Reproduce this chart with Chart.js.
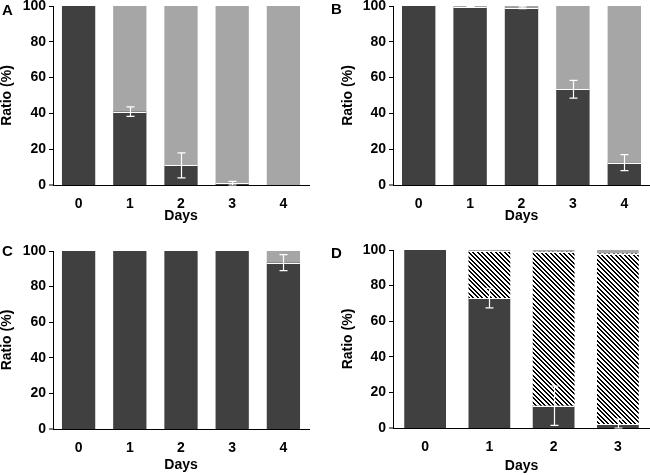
<!DOCTYPE html>
<html>
<head>
<meta charset="utf-8">
<script src="https://cdn.jsdelivr.net/npm/chart.js@4"></script>
<style>
  body { margin: 0; background: #fff; }
  #wrap { position: relative; width: 650px; height: 475px; overflow: hidden; }
  .panel { position: absolute; }
  .letter { position: absolute; font: bold 15px "Liberation Sans", Arial, sans-serif; line-height: 1; color: #000; }
</style>
</head>
<body>
<div id="wrap">
  <canvas class="panel" id="cA" width="325" height="235" style="left:0;top:0"></canvas>
  <canvas class="panel" id="cB" width="325" height="235" style="left:325px;top:0"></canvas>
  <canvas class="panel" id="cC" width="325" height="240" style="left:0;top:235px"></canvas>
  <canvas class="panel" id="cD" width="325" height="240" style="left:325px;top:235px"></canvas>
  <div class="letter" style="left:2px;top:2px">A</div>
  <div class="letter" style="left:331px;top:1px">B</div>
  <div class="letter" style="left:2px;top:243px">C</div>
  <div class="letter" style="left:331px;top:245px">D</div>
</div>
<script>
// data
const days5 = ['0', '1', '2', '3', '4'];
const days4 = ['0', '1', '2', '3'];

const aDark = [100, 41, 11, 1, 0];
const aLight = [0, 59, 89, 99, 100];
const aErr = [0, 2.7, 7, 1, 0];

const bDark = [100, 99.5, 99, 53.5, 12.5];
const bLight = [0, 0.5, 1, 46.5, 87.5];
const bErr = [0, 0.3, 0.5, 5, 4.5];

const cDark = [100, 100, 100, 100, 93.5];
const cLight = [0, 0, 0, 0, 6.5];
const cErr = [0, 0, 0, 0, 4.5];

const dDark = [100, 73, 12.5, 2];
const dHatch = [0, 26.5, 86.5, 96];
const dLight = [0, 0.5, 1, 2];
const dErr = [0, 5.5, 11, 3];

const DARK = '#404040';
const LIGHT = '#a6a6a6';

Chart.defaults.font.family = '"Liberation Sans", Arial, sans-serif';
Chart.defaults.color = '#000';

function hatch() {
  // diagonal black/white stripes, top-left to bottom-right
  const s = 9;
  const c = document.createElement('canvas');
  c.width = s; c.height = s;
  const g = c.getContext('2d');
  g.fillStyle = '#fff';
  g.fillRect(0, 0, s, s);
  g.fillStyle = '#000';
  for (let y = 0; y < s; y++) {
    for (let x = 0; x < s; x++) {
      const k = ((x - y) % s + s) % s;
      if (k === 0 || k === 1 || k === 4 || k === 5) g.fillRect(x, y, 1, 1);
    }
  }
  return g.createPattern(c, 'repeat');
}

// white lines between stacked segments + white error bars on the dark segment
const errorBars = {
  id: 'errorBars',
  afterDatasetsDraw(chart, args, opts) {
    const y = chart.scales.y;
    const ctx = chart.ctx;
    const sets = chart.data.datasets;
    const meta0 = chart.getDatasetMeta(0);
    ctx.save();
    ctx.strokeStyle = '#fff';
    ctx.lineWidth = 1;
    meta0.data.forEach((bar, i) => {
      let sum = 0;
      for (let d = 0; d < sets.length - 1; d++) {
        sum += sets[d].data[i];
        if (sum <= 0 || sum >= 100) continue;
        const yy = Math.round(y.getPixelForValue(sum)) + 0.5;
        ctx.beginPath();
        ctx.moveTo(bar.x - bar.width / 2, yy);
        ctx.lineTo(bar.x + bar.width / 2, yy);
        ctx.stroke();
      }
    });
    ctx.lineWidth = 1.2;
    opts.errors.forEach((e, i) => {
      if (!e) return;
      const x = Math.round(meta0.data[i].x) + 0.5;
      const v = opts.values[i];
      const t = y.getPixelForValue(Math.min(v + e, 100));
      const b = y.getPixelForValue(Math.max(v - e, 0));
      ctx.beginPath();
      ctx.moveTo(x, t); ctx.lineTo(x, b);
      ctx.moveTo(x - 4, t); ctx.lineTo(x + 4, t);
      ctx.moveTo(x - 4, b); ctx.lineTo(x + 4, b);
      ctx.stroke();
    });
    ctx.restore();
  }
};

function seg(data, color) {
  return {
    data: data,
    backgroundColor: color,
    borderWidth: 0,
    barPercentage: 0.65,
    categoryPercentage: 1
  };
}

function makeChart(id, labels, sets, dark, errs, g) {
  return new Chart(document.getElementById(id), {
    type: 'bar',
    data: { labels: labels, datasets: sets },
    plugins: [errorBars],
    options: {
      responsive: false,
      animation: false,
      layout: { padding: { top: g.top, right: g.right, left: 0, bottom: 0 } },
      plugins: {
        legend: { display: false },
        tooltip: { enabled: false },
        errorBars: { values: dark, errors: errs }
      },
      scales: {
        x: {
          stacked: true,
          grid: { display: false },
          border: { display: true, color: '#000', width: 1 },
          ticks: { font: { size: 14, weight: 'bold' }, padding: 3 },
          title: {
            display: true, text: 'Days',
            font: { size: 14, weight: 'bold', lineHeight: 1 },
            padding: { top: 0, bottom: g.dpad }
          },
          afterFit(s) { s.height = g.xh; s.paddingLeft = 0; s.paddingRight = 0; }
        },
        y: {
          stacked: true,
          min: 0, max: 100,
          grid: {
            display: true, drawOnChartArea: false, drawTicks: true, tickLength: 4,
            lineWidth: (c) => (c.tick && c.tick.value === 0 ? 0 : 1),
            tickWidth: 1, color: '#000', tickColor: '#000'
          },
          border: { display: true, color: '#000', width: 1 },
          ticks: { stepSize: 20, font: { size: 14, weight: 'bold' }, padding: 3 },
          title: {
            display: true, text: 'Ratio (%)',
            font: { size: 14, weight: 'bold', lineHeight: 1 },
            padding: { top: g.tpad, bottom: 0 }
          },
          afterFit(s) { s.width = g.yw; s.paddingTop = 0; s.paddingBottom = 0; }
        }
      }
    }
  });
}

makeChart('cA', days5, [seg(aDark, DARK), seg(aLight, LIGHT)], aDark, aErr,
  { top: 6, right: 16, yw: 53, xh: 50, dpad: 12, tpad: 0 });
makeChart('cB', days5, [seg(bDark, DARK), seg(bLight, LIGHT)], bDark, bErr,
  { top: 6, right: 0, yw: 68, xh: 50, dpad: 12, tpad: 16 });
makeChart('cC', days5, [seg(cDark, DARK), seg(cLight, LIGHT)], cDark, cErr,
  { top: 16, right: 16, yw: 53, xh: 46, dpad: 3, tpad: 0 });
makeChart('cD', days4, [seg(dDark, DARK), seg(dHatch, hatch()), seg(dLight, LIGHT)], dDark, dErr,
  { top: 15, right: 0, yw: 68, xh: 47, dpad: 2, tpad: 16 });
</script>
</body>
</html>
